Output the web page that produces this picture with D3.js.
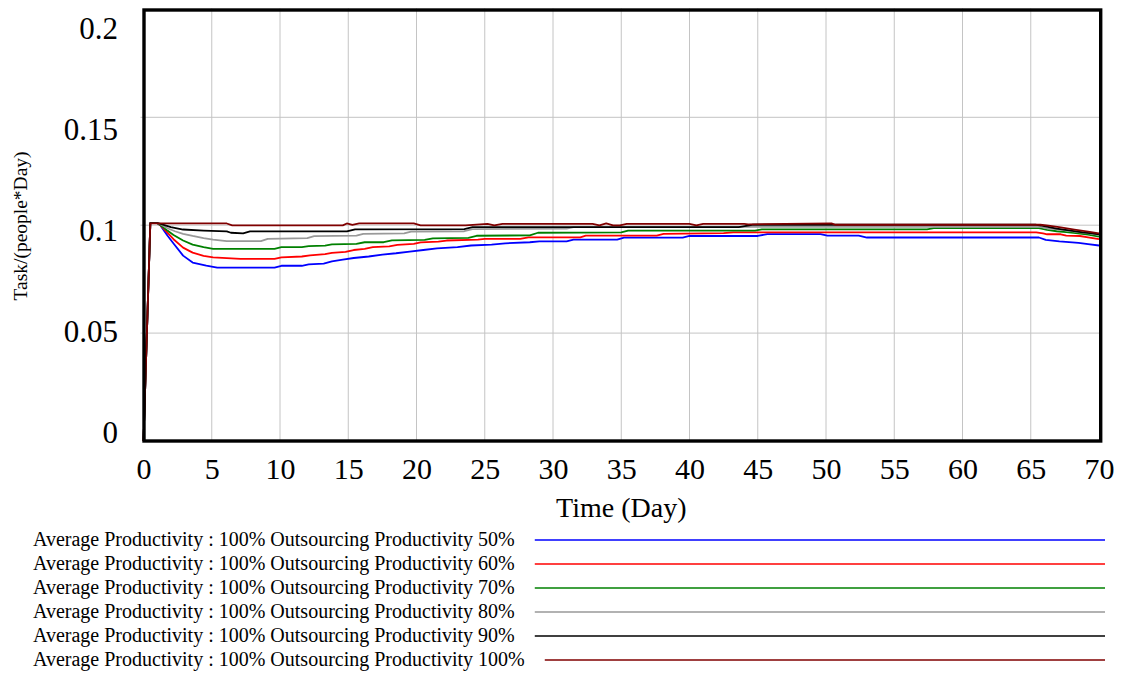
<!DOCTYPE html>
<html>
<head>
<meta charset="utf-8">
<script src="https://cdn.jsdelivr.net/npm/d3@7"></script>
<style>
  html, body { margin: 0; padding: 0; background: #fff; }
  svg { display: block; }
  text { font-family: "Liberation Serif", "Times New Roman", serif; fill: #000; }
</style>
</head>
<body>
<svg id="chart" width="1123" height="675"></svg>
<script>
// Simulation output: average productivity (Task/(people*Day)) over 70 days,
// one run per outsourcing productivity level. Each entry is [day, value].
const run50 = [[0,0],[0.5,0.101],[1,0.101],[1.25,0.0998],[1.75,0.0952],[2.2,0.0915],[2.9,0.0859],[3.6,0.0827],[4.6,0.0813],[5.4,0.0803],[9.6,0.0803],[10.1,0.0812],[11.6,0.0812],[12.1,0.0818],[13.2,0.0822],[13.8,0.0832],[14.6,0.0840],[15.4,0.0848],[16.5,0.0855],[17.5,0.0864],[18.5,0.0870],[19.5,0.0878],[20.5,0.0885],[21.5,0.0893],[23,0.0898],[24,0.0906],[25.5,0.0910],[26.5,0.0916],[28.3,0.0921],[29,0.0925],[31,0.0925],[31.5,0.0933],[34.7,0.0933],[35.2,0.0942],[39.5,0.0942],[40,0.0950],[45,0.0950],[45.7,0.0959],[49.6,0.0959],[50.1,0.0952],[52.4,0.0952],[53,0.0943],[65.6,0.0943],[66.1,0.0932],[67.1,0.0925],[68.5,0.0918],[69.2,0.0912],[70,0.0906]];
const run60 = [[0,0],[0.5,0.101],[1,0.101],[1.25,0.0999],[1.75,0.0966],[2.2,0.0935],[2.9,0.0896],[3.6,0.0873],[4.4,0.0858],[5.1,0.0851],[6.1,0.0847],[7.1,0.0844],[9.6,0.0844],[10.1,0.0851],[11.6,0.0855],[12.2,0.0860],[13.3,0.0866],[13.8,0.0872],[14.8,0.0876],[15.4,0.0885],[16.2,0.0890],[16.8,0.0898],[18,0.0902],[18.6,0.0909],[19.8,0.0913],[20.3,0.0920],[21.6,0.0924],[22.2,0.0929],[24.5,0.0933],[25,0.0937],[27.6,0.0937],[28.2,0.0944],[32,0.0944],[32.4,0.0952],[37.6,0.0952],[38.1,0.0960],[42.5,0.0963],[43.2,0.0967],[65.4,0.0967],[65.9,0.0962],[66.2,0.0958],[67.2,0.0958],[67.6,0.0952],[68.6,0.0950],[69.2,0.0944],[70,0.0935]];
const run70 = [[0,0],[0.5,0.101],[1,0.101],[1.25,0.1000],[1.75,0.0975],[2.2,0.0955],[2.9,0.0929],[3.6,0.0910],[4.4,0.0898],[5.1,0.0890],[9.6,0.0890],[10.1,0.0898],[11.6,0.0898],[12.1,0.0903],[13.3,0.0905],[13.8,0.0911],[15.6,0.0913],[16.2,0.0921],[17.6,0.0921],[18.2,0.0930],[20.6,0.0932],[21.2,0.0939],[23.8,0.0941],[24.4,0.0951],[28.3,0.0953],[28.9,0.0965],[35,0.0967],[35.5,0.0975],[44.8,0.0975],[45.3,0.0981],[57.4,0.0981],[57.9,0.0986],[65.6,0.0986],[66.2,0.0978],[66.9,0.0972],[67.6,0.0968],[68.3,0.0963],[69.2,0.0956],[70,0.0947]];
const run80 = [[0,0],[0.5,0.101],[1,0.101],[1.25,0.1005],[1.75,0.0986],[2.3,0.0972],[2.9,0.0960],[3.6,0.0950],[4.4,0.0940],[5.1,0.0933],[6.1,0.0926],[8.6,0.0926],[9.1,0.0937],[12,0.0940],[12.5,0.0949],[15.6,0.0952],[16.1,0.0960],[19.1,0.0962],[19.6,0.0970],[23.5,0.0972],[24.1,0.0982],[31,0.0984],[31.5,0.0991],[65.6,0.0993],[66.2,0.0985],[67.3,0.0978],[68.5,0.0968],[69.3,0.0962],[70,0.0955]];
const run90 = [[0,0],[0.5,0.101],[1,0.101],[1.25,0.1006],[2,0.0991],[2.9,0.0980],[4.4,0.0975],[6.1,0.0971],[6.4,0.0965],[7.3,0.0962],[7.8,0.0971],[14.9,0.0971],[15.5,0.0981],[23.5,0.0982],[24.1,0.0991],[43.6,0.0991],[44.6,0.1002],[65.4,0.1002],[65.8,0.0998],[66.9,0.0984],[67.8,0.0976],[68.8,0.0967],[69.5,0.0962],[70,0.0957]];
const run100 = [[0,0],[0.5,0.1008],[6.1,0.1008],[6.5,0.0999],[14.6,0.0999],[14.9,0.1008],[15.3,0.1002],[15.8,0.1008],[19.8,0.1008],[20.3,0.0999],[23.6,0.0999],[25.2,0.1006],[25.7,0.0999],[26.3,0.1006],[32.9,0.1006],[33.4,0.0999],[33.9,0.1008],[34.4,0.0999],[34.9,0.0999],[35.4,0.1006],[40,0.1006],[40.5,0.0999],[41,0.1006],[44,0.1006],[44.3,0.1004],[50.4,0.1008],[50.7,0.1002],[65.7,0.1002],[66.3,0.0998],[67.2,0.0990],[68.2,0.0980],[69.2,0.0970],[70,0.0962]];

const seriesNames = [
  "Average Productivity : 100% Outsourcing Productivity 50%",
  "Average Productivity : 100% Outsourcing Productivity 60%",
  "Average Productivity : 100% Outsourcing Productivity 70%",
  "Average Productivity : 100% Outsourcing Productivity 80%",
  "Average Productivity : 100% Outsourcing Productivity 90%",
  "Average Productivity : 100% Outsourcing Productivity 100%"
];
const seriesData = [run50, run60, run70, run80, run90, run100];
const seriesColors = ["#0000ff", "#ff0000", "#008000", "#999999", "#000000", "#800000"];

const xTicks = [0, 5, 10, 15, 20, 25, 30, 35, 40, 45, 50, 55, 60, 65, 70];
const yTicks = [0, 0.05, 0.1, 0.15, 0.2];
const yTickLabels = ["0", "0.05", "0.1", "0.15", "0.2"];
const xTitle = "Time (Day)";
const yTitle = "Task/(people*Day)";

const svg = d3.select("#chart");

const x = d3.scaleLinear().domain([0, 70]).range([143.5, 1099]);
const y = d3.scaleLinear().domain([0, 0.2]).range([441, 9.4]);
// tick labels on the value axis are spread evenly inside the frame height
const yLabelPos = d3.scaleLinear().domain([0, 0.2]).range([432, 28]);

// grid
const grid = svg.append("g");
grid.selectAll("line.gx").data(xTicks.slice(1, -1)).join("line")
  .attr("x1", d => x(d)).attr("x2", d => x(d))
  .attr("y1", y(0.2) - 1).attr("y2", y(0))
  .attr("stroke", "#c4c4c4").attr("stroke-width", 1);
grid.selectAll("line.gy").data(yTicks.slice(1, -1)).join("line")
  .attr("x1", x(0) - 3).attr("x2", x(70))
  .attr("y1", d => y(d)).attr("y2", d => y(d))
  .attr("stroke", "#c4c4c4").attr("stroke-width", 1);

// series
const line = d3.line().x(d => x(d[0])).y(d => y(d[1]));
svg.append("g").selectAll("path").data(seriesData).join("path")
  .attr("d", line)
  .attr("fill", "none")
  .attr("stroke", (d, i) => seriesColors[i])
  .attr("stroke-width", 1.8)
  .attr("stroke-linejoin", "round");

// frame
svg.append("rect")
  .attr("x", 144).attr("y", 10)
  .attr("width", 1100.7 - 144).attr("height", 441 - 10)
  .attr("fill", "none").attr("stroke", "#000").attr("stroke-width", 3.4);

// x axis labels
const xAxis = d3.axisBottom(x).tickValues(xTicks).tickSize(0).tickPadding(0).tickFormat(d3.format("d"));
const gx = svg.append("g").attr("transform", "translate(0,479)").call(xAxis);
gx.select(".domain").remove();
gx.selectAll("text").attr("dy", 0).attr("y", 0)
  .style("font-family", "'Liberation Serif', serif").style("font-size", "30px");

// y axis labels
svg.append("g").selectAll("text").data(yTicks).join("text")
  .attr("x", 118)
  .attr("y", d => yLabelPos(d))
  .attr("dy", "0.35em")
  .attr("text-anchor", "end")
  .style("font-size", "31px")
  .text((d, i) => yTickLabels[i]);

// axis titles
svg.append("text")
  .attr("x", (x(0) + x(70)) / 2).attr("y", 517)
  .attr("text-anchor", "middle")
  .style("font-size", "28px")
  .text(xTitle);

svg.append("text")
  .attr("transform", "translate(27,226) rotate(-90)")
  .attr("text-anchor", "middle")
  .style("font-size", "19.5px")
  .text(yTitle);

// legend
const legend = svg.append("g").selectAll("g").data(seriesNames).join("g")
  .attr("transform", (d, i) => `translate(0,${540 + i * 24})`);
legend.append("text")
  .attr("x", 33).attr("y", 6)
  .style("font-size", "20px")
  .text(d => d);
legend.each(function(d, i) {
  const g = d3.select(this);
  const w = g.select("text").node().getComputedTextLength();
  g.append("line")
    .attr("x1", 33 + w + 20).attr("x2", 1105)
    .attr("y1", 0).attr("y2", 0)
    .attr("stroke", seriesColors[i]).attr("stroke-width", 1.6);
});
</script>
</body>
</html>
